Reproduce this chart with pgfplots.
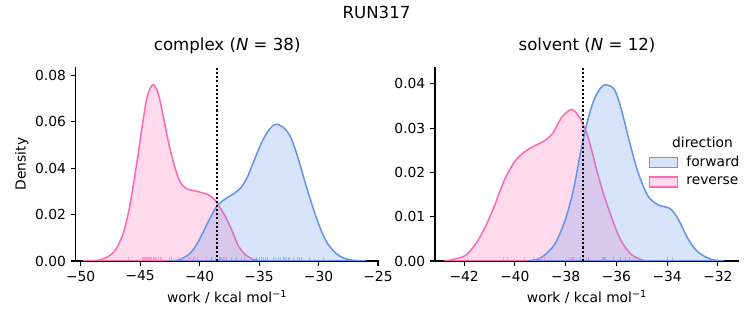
\documentclass[border=0pt]{standalone}
\usepackage{fontspec}
\setmainfont{DejaVu Sans}
\usepackage{pgfplots}
\usepackage{pgfplotstable}
\pgfplotsset{compat=1.18}
\definecolor{fwd}{RGB}{100,149,237}
\definecolor{rev}{RGB}{255,105,180}

\pgfplotstableread{
x y
-49.8 0
-49.0 0.0001
-48.3 0.0006
-47.68 0.0019
-47.2 0.0040
-46.84 0.0069
-46.4 0.0122
-46.0 0.0205
-45.6 0.0320
-45.2 0.0450
-44.8 0.0590
-44.4 0.0710
-43.95 0.0760
-43.53 0.0731
-43.14 0.0645
-42.69 0.0530
-42.22 0.0429
-41.66 0.0343
-41.09 0.0312
-40.25 0.0301
-39.6 0.0292
-39.13 0.0282
-38.7 0.0262
-38.44 0.0242
-38.0 0.0207
-37.62 0.0170
-37.18 0.0120
-36.78 0.0069
-36.3 0.0035
-35.94 0.0019
-35.5 0.0008
-35.1 0.0003
-34.5 0
}\compRev

\pgfplotstableread{
x y
-42.6 0
-41.8 0.0004
-41.2 0.0018
-40.67 0.0040
-40.2 0.0075
-39.83 0.0112
-39.13 0.0184
-38.55 0.0236
-38.0 0.0262
-37.45 0.0280
-37.0 0.0295
-36.5 0.0318
-36.0 0.0360
-35.6 0.0410
-34.75 0.0515
-34.1 0.0570
-33.6 0.0590
-33.0 0.0578
-32.4 0.0540
-31.85 0.0465
-31.3 0.0370
-30.9 0.0300
-30.5 0.0235
-30.1 0.0175
-29.6 0.0110
-29.1 0.0065
-28.5 0.0032
-27.9 0.0013
-27.3 0.0005
-26.5 0.0001
-26.0 0
}\compFwd

\pgfplotstableread{
x y
-42.8 0
-42.4 0.0004
-41.97 0.0012
-41.58 0.0036
-41.19 0.0074
-40.79 0.0127
-40.4 0.0185
-40.0 0.0225
-39.61 0.0247
-39.22 0.0260
-38.82 0.0272
-38.5 0.0289
-38.17 0.0323
-37.77 0.0342
-37.44 0.0323
-37.18 0.0290
-36.95 0.0245
-36.74 0.0197
-36.5 0.0150
-36.2 0.0100
-35.95 0.0062
-35.7 0.0035
-35.4 0.0014
-35.0 0.0003
-34.7 0
}\solvRev

\pgfplotstableread{
x y
-39.5 0
-39.1 0.0004
-38.82 0.0014
-38.43 0.0038
-38.04 0.0089
-37.71 0.0157
-37.38 0.0255
-37.13 0.0318
-36.87 0.0366
-36.6 0.0392
-36.4 0.0398
-36.08 0.0387
-35.82 0.0345
-35.49 0.0270
-35.16 0.0202
-34.77 0.0148
-34.37 0.0127
-33.91 0.0119
-33.59 0.0097
-33.19 0.0051
-32.8 0.0021
-32.28 0.0004
-31.75 0
}\solvFwd

\pgfplotstableread{
x h
-46.0 0.0019
-44.82 0.0019
-44.7 0.0019
-44.65 0.0019
-44.55 0.0019
-44.51 0.0019
-44.42 0.0019
-44.37 0.0019
-44.3 0.0019
-44.23 0.0019
-44.1 0.0019
-44.03 0.0019
-43.9 0.0019
-43.75 0.0019
-43.61 0.0019
-43.48 0.0019
-43.25 0.0019
-42.5 0.0019
-42.36 0.0019
-41.74 0.0019
-40.96 0.0019
-40.76 0.0019
-40.54 0.0019
-40.4 0.0019
-40.2 0.0019
-39.41 0.0019
-38.99 0.0019
-38.66 0.0019
-38.15 0.0019
-37.87 0.0019
}\compRevRug

\pgfplotstableread{
x h
-38.99 0.0019
-38.29 0.0019
-38.02 0.0019
-37.73 0.0019
-37.31 0.0019
-36.89 0.0019
-36.47 0.0019
-36.19 0.0019
-35.21 0.0019
-34.99 0.0019
-34.79 0.0019
-34.6 0.0019
-34.45 0.0019
-34.32 0.0019
-33.82 0.0019
-33.59 0.0019
-33.4 0.0019
-33.17 0.0019
-32.97 0.0019
-32.83 0.0019
-32.69 0.0019
-32.55 0.0019
-32.41 0.0019
-32.13 0.0019
-31.8 0.0019
-31.63 0.0019
-31.43 0.0019
-30.73 0.0019
-29.61 0.0019
}\compFwdRug

\pgfplotstableread{
x h
-40.46 0.001
-40.29 0.001
-39.64 0.001
-39.28 0.001
-38.98 0.001
-38.82 0.001
-37.84 0.001
-37.75 0.001
-37.71 0.001
-37.68 0.001
-37.18 0.001
-37.09 0.001
}\solvRevRug

\pgfplotstableread{
x h
-37.4 0.001
-37.3 0.001
-37.1 0.001
-36.55 0.001
-36.5 0.001
-36.45 0.001
-36.1 0.001
-35.85 0.001
-35.65 0.001
-35.5 0.001
-34.0 0.001
-33.8 0.001
}\solvFwdRug

\pgfplotsset{
  myaxis/.style={
    scale only axis,
    anchor=south west,
    height=1.94in,
    ymin=0,
    axis lines=left,
    axis line style={-, line width=0.8pt},
    tick align=outside,
    major tick length=3.5pt,
    tick style={line width=0.8pt, black},
    minor tick num=0,
    scaled y ticks=false,
    scaled x ticks=false,
    ticklabel style={font=\fontsize{10}{12}\selectfont},
    label style={font=\fontsize{10}{12}\selectfont},
    title style={font=\fontsize{12}{14}\selectfont, at={(0.5,1)}, anchor=base, yshift=6pt},
    xlabel={work / kcal mol\textsuperscript{−1}},
    clip=true,
  },
  kde/.style={line width=1.1pt, fill opacity=0.25, smooth, tension=0.5},
  rug/.style={ycomb, line width=0.8pt, opacity=0.55, forget plot, no markers},
}

\begin{document}
\begin{tikzpicture}
\path (0,0) rectangle (7.53in,3.25in);
\node[anchor=base, font=\fontsize{12}{14}\selectfont] at (3.765in,3.06in) {RUN317};

\begin{axis}[myaxis,
  at={(0.757in,0.64in)},
  width=3.03in,
  xmin=-50.42, xmax=-24.94,
  ymax=0.0837,
  xtick={-50,-45,-40,-35,-30,-25},
  xticklabels={−50,−45,−40,−35,−30,−25},
  ytick={0,0.02,0.04,0.06,0.08},
  yticklabels={0.00,0.02,0.04,0.06,0.08},
  ylabel={Density},
  ylabel style={xshift=0pt, yshift=-2pt},
  title={complex (\textit{N} = 38)},
]
\addplot[kde, draw=rev, fill=rev] table[x=x,y=y] {\compRev} \closedcycle;
\addplot[kde, draw=fwd, fill=fwd] table[x=x,y=y] {\compFwd} \closedcycle;
\addplot[rug, rev] table[x=x,y=h] {\compRevRug};
\addplot[rug, fwd] table[x=x,y=h] {\compFwdRug};
\addplot[black, line width=1.5pt, dash pattern=on 1.5pt off 1.5pt, forget plot] coordinates {(-38.55,0) (-38.55,0.0837)};
\end{axis}

\begin{axis}[myaxis,
  at={(4.35in,0.64in)},
  width=3.04in,
  xmin=-43.15, xmax=-31.17,
  ymax=0.0438,
  xtick={-42,-40,-38,-36,-34,-32},
  xticklabels={−42,−40,−38,−36,−34,−32},
  ytick={0,0.01,0.02,0.03,0.04},
  yticklabels={0.00,0.01,0.02,0.03,0.04},
  title={solvent (\textit{N} = 12)},
  reverse legend,
  legend cell align=left,
  legend image code/.code={\draw[#1] (0pt,-3.5pt) rectangle (20pt,3.5pt);},
  legend style={draw=none, fill=none, at={(0.689,0.57)}, anchor=north west,
    font=\fontsize{10}{12}\selectfont, row sep=2pt, /tikz/column sep=4pt},
]
\addplot[kde, draw=rev, fill=rev] table[x=x,y=y] {\solvRev} \closedcycle;
\addlegendentry{reverse}
\addplot[kde, draw=fwd, fill=fwd] table[x=x,y=y] {\solvFwd} \closedcycle;
\addlegendentry{forward}
\addplot[rug, rev] table[x=x,y=h] {\solvRevRug};
\addplot[rug, fwd] table[x=x,y=h] {\solvFwdRug};
\addplot[black, line width=1.5pt, dash pattern=on 1.5pt off 1.5pt, forget plot] coordinates {(-37.3,0) (-37.3,0.0438)};
\node[font=\fontsize{10}{12}\selectfont] at (rel axis cs:0.88,0.613) {direction};
\end{axis}
\end{tikzpicture}
\end{document}
